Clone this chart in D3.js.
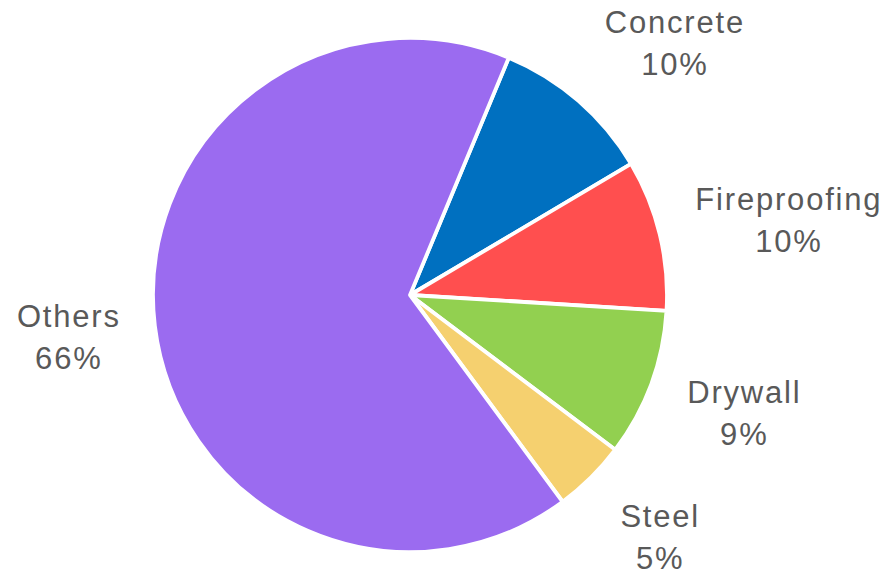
<!DOCTYPE html>
<html>
<head>
<meta charset="utf-8">
<script src="https://cdn.jsdelivr.net/npm/d3@7"></script>
<style>
  body { margin: 0; background: #fff; }
  text { font-family: "Liberation Sans", Arial, sans-serif; }
</style>
</head>
<body>
<div id="vis"></div>
<script>
// chart data
var categories = ['Concrete', 'Fireproofing', 'Drywall', 'Steel', 'Others'];
var shares = [10.2, 9.5, 9.3, 4.6, 66.4];
var pctLabels = ['10%', '10%', '9%', '5%', '66%'];
var colors = ['#0070c0', '#ff4f4f', '#92d050', '#f5d06f', '#9b6bf0'];

var width = 887;
var height = 571;
var cx = 410, cy = 295;
var radius = 257;
var fontSize = 31;
var lineStep = 42;

var data = categories.map(function (c, i) {
  return { name: c, value: shares[i], pct: pctLabels[i], color: colors[i] };
});

var startA = 22.6 * Math.PI / 180;

var pie = d3.pie()
  .sort(null)
  .value(function (d) { return d.value; })
  .startAngle(startA)
  .endAngle(startA + 2 * Math.PI);

var arc = d3.arc().innerRadius(0).outerRadius(radius);

var svg = d3.select('#vis')
  .append('svg')
  .attr('width', width)
  .attr('height', height);

var g = svg.append('g').attr('transform', 'translate(' + cx + ',' + cy + ')');

var arcs = pie(data);

g.selectAll('.slice')
  .data(arcs)
  .enter().append('path')
  .attr('class', 'slice')
  .attr('d', arc)
  .attr('fill', function (d) { return d.data.color; })
  .attr('stroke', '#fff')
  .attr('stroke-width', 3.8)
  .attr('stroke-linejoin', 'round');

var clamp = function (v) { return Math.max(-1, Math.min(1, v)); };

// labels sit outside the pie, box pushed outward along the mid angle
var labels = g.selectAll('.label')
  .data(arcs)
  .enter().append('text')
  .attr('class', 'label')
  .attr('text-anchor', 'middle')
  .attr('fill', '#595959')
  .style('font-size', fontSize + 'px')
  .style('letter-spacing', '1.8px');

labels.append('tspan').attr('x', 0).attr('dy', 0).text(function (d) { return d.data.name; });
labels.append('tspan').attr('x', 0).attr('dy', lineStep).text(function (d) { return d.data.pct; });

labels.each(function (d) {
  var el = d3.select(this);
  var bb = this.getBBox();
  var mid = (d.startAngle + d.endAngle) / 2;
  // diagonal labels sit a bit further out (corner of the box faces the pie)
  var r = radius + 32 + 10 * Math.abs(Math.sin(2 * mid));
  var ax = r * Math.sin(mid), ay = -r * Math.cos(mid);
  var bx = ax + bb.width / 2 * clamp(Math.sin(mid) * 1.5);
  var by = ay - bb.height / 2 * clamp(Math.cos(mid)) + 3;
  // shift so the box centre lands on (bx, by)
  var dx = bx - (bb.x + bb.width / 2);
  var dy = by - (bb.y + bb.height / 2);
  el.attr('transform', 'translate(' + dx + ',' + dy + ')');
});
</script>
</body>
</html>
